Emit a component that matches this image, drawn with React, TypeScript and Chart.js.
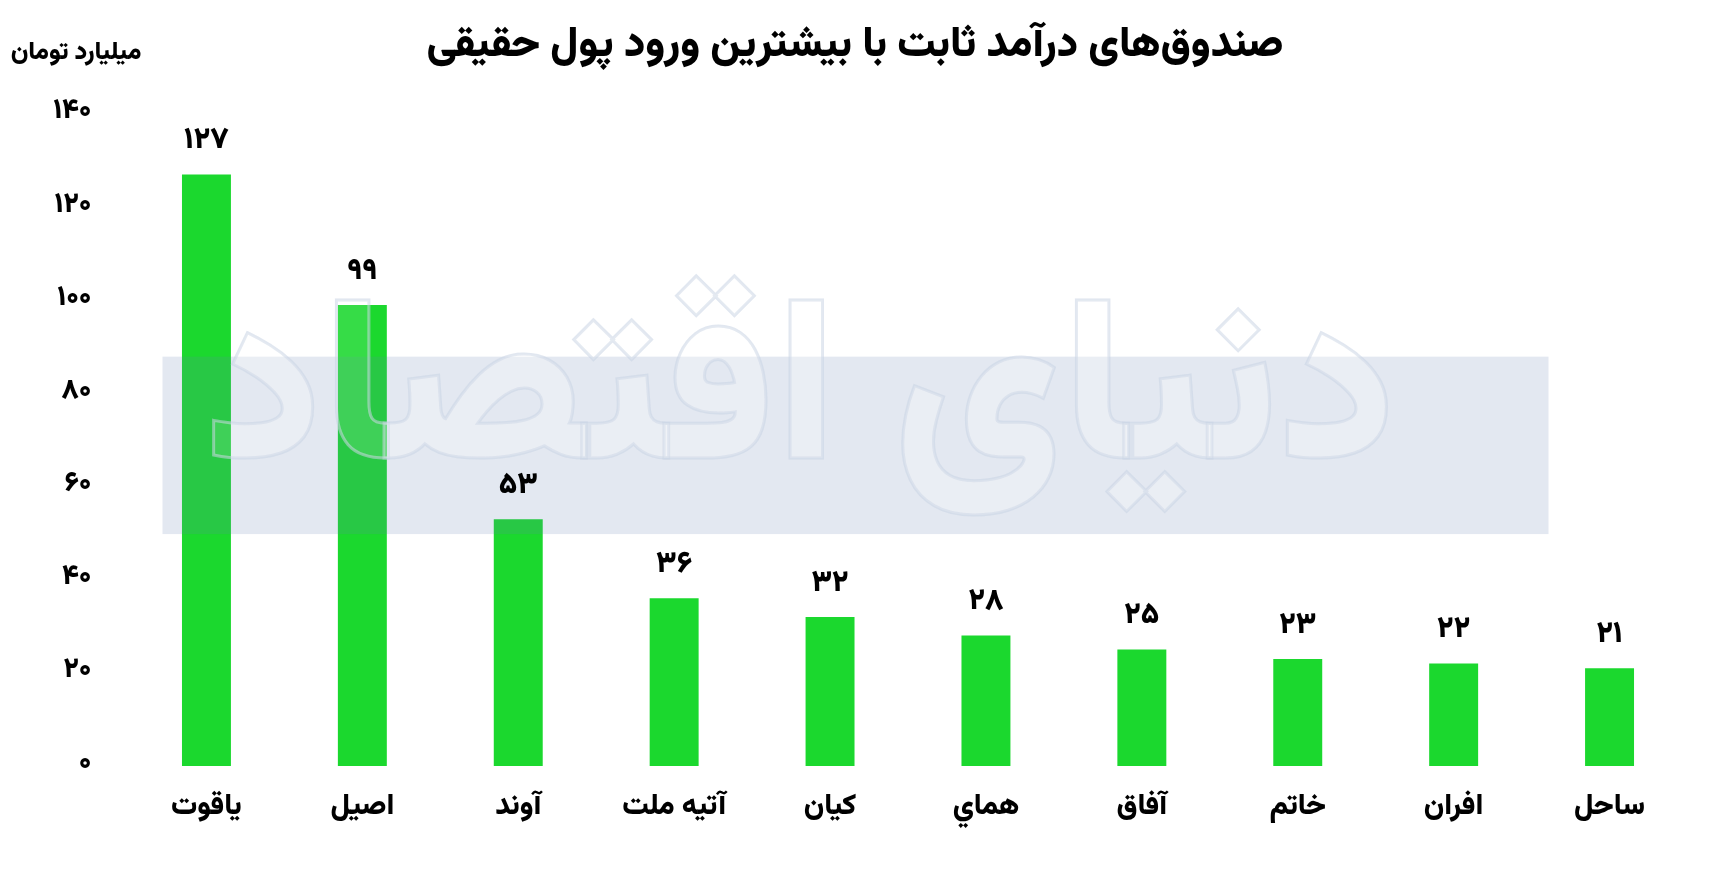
import React, { useEffect, useRef } from "react";
import { Chart, registerables } from "chart.js";

Chart.register(...registerables);

const categories = ["یاقوت", "اصیل", "آوند", "آتیه ملت", "کیان", "هماي", "آفاق", "خاتم", "افران", "ساحل"];
const values = [127, 99, 53, 36, 32, 28, 25, 23, 22, 21];
const yTicks = [0, 20, 40, 60, 80, 100, 120, 140];
const titleText = "صندوق‌های درآمد ثابت با بیشترین ورود پول حقیقی";
const unitText = "میلیارد تومان";
const watermarkText = "دنیای اقتصاد";

const FONT = "Vazirmatn, 'Noto Sans Arabic', 'Noto Naskh Arabic', 'DejaVu Sans', sans-serif";
const BAR_COLOR = "rgb(27,216,46)";

const toFa = (n: number | string) =>
  String(n).replace(/\d/g, (d) => "۰۱۲۳۴۵۶۷۸۹"[Number(d)]);

const overlayPlugin = {
  id: "overlay",
  beforeDraw(chart: any) {
    const ctx = chart.ctx;
    ctx.save();
    ctx.fillStyle = "#ffffff";
    ctx.fillRect(0, 0, chart.width, chart.height);
    ctx.restore();
  },
  afterDatasetsDraw(chart: any) {
    const ctx = chart.ctx;
    const area = chart.chartArea;
    const y = chart.scales.y;
    const wmFont = `900 230px ${FONT}`;
    const wmX = 800;
    const wmY = 422;

    // watermark band with logo cut out (drawn offscreen)
    const off = document.createElement("canvas");
    off.width = chart.width;
    off.height = chart.height;
    const o = off.getContext("2d") as CanvasRenderingContext2D;
    o.fillStyle = "rgba(100,130,180,0.18)";
    const bandTop = y.getPixelForValue(87.9);
    const bandBot = y.getPixelForValue(49.8);
    o.fillRect(area.left + 34, bandTop, area.right - area.left - 173, bandBot - bandTop);
    o.globalCompositeOperation = "destination-out";
    o.font = wmFont;
    o.textAlign = "center";
    o.textBaseline = "middle";
    o.fillText(watermarkText, wmX, wmY);

    ctx.save();
    ctx.drawImage(off, 0, 0);
    ctx.font = wmFont;
    ctx.textAlign = "center";
    ctx.textBaseline = "middle";
    ctx.lineWidth = 3;
    ctx.strokeStyle = "rgba(200,212,228,0.55)";
    ctx.strokeText(watermarkText, wmX, wmY);
    ctx.fillStyle = "rgba(255,255,255,0.12)";
    ctx.fillText(watermarkText, wmX, wmY);

    // value labels
    const meta = chart.getDatasetMeta(0);
    ctx.fillStyle = "#000";
    ctx.font = `900 30px ${FONT}`;
    meta.data.forEach((bar: any, i: number) => {
      ctx.fillText(toFa(values[i]), bar.x, bar.y - 31);
    });

    // title
    ctx.font = `900 42px ${FONT}`;
    ctx.fillText(titleText, 855, 49);

    // unit
    ctx.font = `900 25px ${FONT}`;
    ctx.fillText(unitText, 76, 55);
    ctx.restore();
  },
};

export default function App() {
  const ref = useRef<HTMLCanvasElement | null>(null);
  useEffect(() => {
    if (!ref.current) return;
    const chart = new Chart(ref.current, {
      type: "bar",
      data: {
        labels: categories,
        datasets: [
          {
            data: values,
            backgroundColor: BAR_COLOR,
            barPercentage: 0.314,
            categoryPercentage: 1,
          },
        ],
      },
      options: {
        responsive: false,
        animation: false,
        layout: { padding: { top: 114, right: 24.5, bottom: 0, left: 0 } },
        plugins: { legend: { display: false }, tooltip: { enabled: false }, title: { display: false } },
        scales: {
          x: {
            grid: { display: false, drawTicks: false },
            border: { display: false },
            ticks: {
              color: "#000",
              padding: 26,
              font: { family: FONT, size: 29, weight: "900" },
            },
            afterFit: (s: any) => {
              s.height = 126;
            },
          },
          y: {
            min: 0,
            max: 140,
            grid: { display: false, drawTicks: false },
            border: { display: false },
            afterBuildTicks: (s: any) => {
              s.ticks = yTicks.map((v) => ({ value: v }));
            },
            ticks: {
              color: "#000",
              padding: 37,
              font: { family: FONT, size: 28, weight: "900" },
              callback: (v: any) => toFa(v),
            },
            afterFit: (s: any) => {
              s.width = 128.5;
            },
          },
        },
      },
      plugins: [overlayPlugin],
    });
    return () => chart.destroy();
  }, []);
  return (
    <div style={{ position: "absolute", left: 0, top: 0, width: 1712, height: 892, background: "#fff" }}>
      <canvas ref={ref} width={1712} height={892} style={{ display: "block" }} />
    </div>
  );
}
